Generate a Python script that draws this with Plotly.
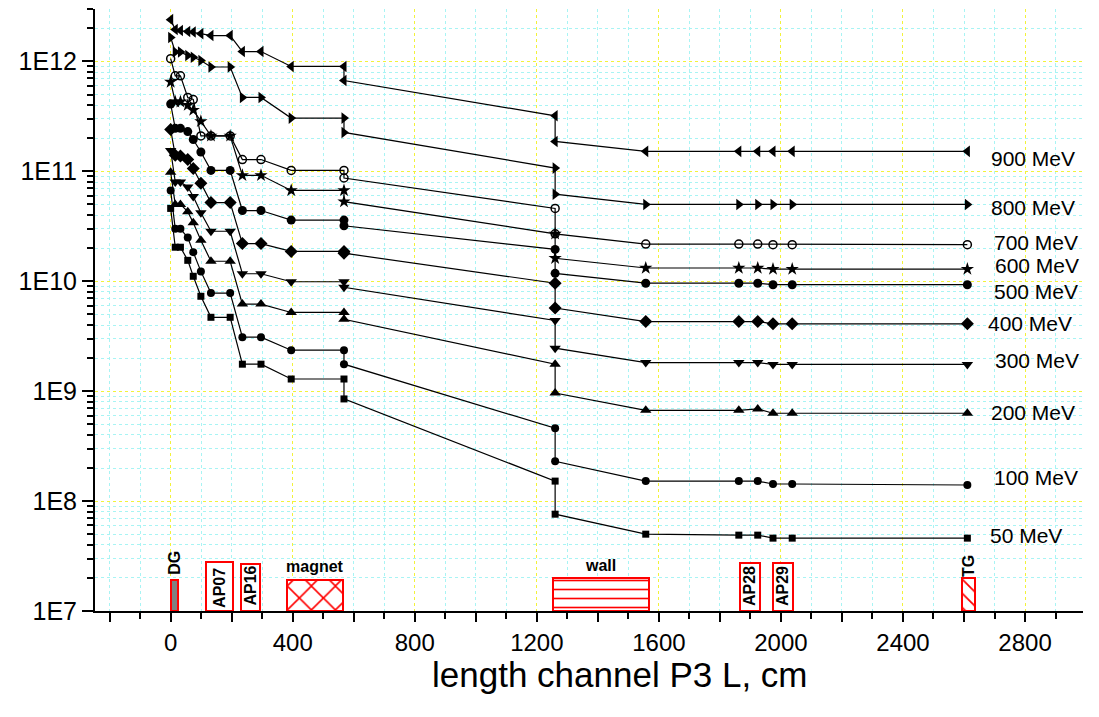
import math
import plotly.graph_objects as go

# ---------------- data ----------------
positions_cm = [0, 15, 32, 56, 74, 99, 132, 195, 235, 296, 395, 568, 568,
                1260, 1260, 1557, 1862, 1924, 1974, 2037, 2611]

energies = ["900 MeV", "800 MeV", "700 MeV", "600 MeV", "500 MeV",
            "400 MeV", "300 MeV", "200 MeV", "100 MeV", "50 MeV"]

v900 = [2.4e12, 1.95e12, 1.91e12, 1.87e12, 1.85e12, 1.79e12, 1.72e12, 1.72e12,
        1.23e12, 1.23e12, 9.0e11, 9.0e11, 6.7e11, 3.2e11, 1.87e11,
        1.52e11, 1.52e11, 1.52e11, 1.52e11, 1.52e11, 1.52e11]
v800 = [1.65e12, 1.22e12, 1.22e12, 1.13e12, 1.09e12, 1.02e12, 8.9e11, 8.9e11,
        4.7e11, 4.7e11, 3.05e11, 3.05e11, 2.26e11, 1.07e11, 6.2e10,
        5.0e10, 5.0e10, 5.0e10, 5.0e10, 5.0e10, 5.0e10]
v700 = [1.06e12, 7.4e11, 7.4e11, 4.7e11, 4.5e11, 2.1e11, 2.1e11, 2.1e11,
        1.28e11, 1.28e11, 1.02e11, 1.02e11, 8.7e10, 4.6e10, 2.7e10,
        2.18e10, 2.18e10, 2.18e10, 2.15e10, 2.15e10, 2.15e10]
v600 = [6.5e11, 4.3e11, 4.3e11, 4.0e11, 3.6e11, 2.85e11, 2.1e11, 2.1e11,
        9.2e10, 9.2e10, 6.7e10, 6.7e10, 5.3e10, 2.7e10, 1.62e10,
        1.32e10, 1.32e10, 1.32e10, 1.29e10, 1.29e10, 1.29e10]
v500 = [4.1e11, 2.46e11, 2.46e11, 2.3e11, 1.95e11, 1.5e11, 1.02e11, 1.02e11,
        4.4e10, 4.4e10, 3.6e10, 3.6e10, 3.2e10, 1.95e10, 1.18e10,
        9.6e9, 9.6e9, 9.6e9, 9.3e9, 9.3e9, 9.3e9]
v400 = [2.4e11, 1.4e11, 1.38e11, 1.28e11, 1.06e11, 7.8e10, 5.2e10, 5.2e10,
        2.2e10, 2.2e10, 1.87e10, 1.87e10, 1.8e10, 9.6e9, 5.7e9,
        4.3e9, 4.3e9, 4.3e9, 4.1e9, 4.1e9, 4.1e9]
v300 = [1.55e11, 8.0e10, 8.0e10, 7.2e10, 5.9e10, 4.2e10, 2.85e10, 2.85e10,
        1.17e10, 1.17e10, 9.9e9, 9.9e9, 8.8e9, 4.4e9, 2.46e9,
        1.82e9, 1.82e9, 1.82e9, 1.75e9, 1.75e9, 1.75e9]
v200 = [9.8e10, 5.0e10, 5.0e10, 4.3e10, 3.4e10, 2.36e10, 1.52e10, 1.52e10,
        6.2e9, 6.2e9, 5.2e9, 5.2e9, 4.5e9, 1.76e9, 9.6e8,
        6.7e8, 6.7e8, 6.9e8, 6.3e8, 6.3e8, 6.3e8]
v100 = [6.7e10, 3.0e10, 3.0e10, 2.5e10, 1.84e10, 1.23e10, 7.8e9, 7.8e9,
        3.1e9, 3.1e9, 2.36e9, 2.36e9, 1.76e9, 4.6e8, 2.3e8,
        1.52e8, 1.52e8, 1.52e8, 1.43e8, 1.43e8, 1.4e8]
v50 = [4.6e10, 2.04e10, 2.04e10, 1.55e10, 1.11e10, 7.3e9, 4.7e9, 4.7e9,
       1.76e9, 1.76e9, 1.29e9, 1.29e9, 8.5e8, 1.52e8, 7.6e7,
       5.0e7, 4.9e7, 4.9e7, 4.6e7, 4.6e7, 4.6e7]

series_values = [v900, v800, v700, v600, v500, v400, v300, v200, v100, v50]

# beam-line elements drawn along the bottom
elem_names = ["DG", "AP07", "AP16", "magnet", "wall", "AP28", "AP29", "TG"]
elem_start = [0, 116, 231, 380, 1252, 1866, 1973, 2594]
elem_end = [25, 204, 293, 566, 1566, 1932, 2041, 2637]
elem_top = [1.9e7, 2.77e7, 2.67e7, 1.91e7, 2.01e7, 2.75e7, 2.71e7, 2.0e7]

x_tick_labels = ["0", "400", "800", "1200", "1600", "2000", "2400", "2800"]
y_tick_labels = ["1E7", "1E8", "1E9", "1E10", "1E11", "1E12"]

# ---------------- styles ----------------
FONT = "Arial, Liberation Sans, sans-serif"
symbols = ["triangle-left", "triangle-right", "circle-open", "star", "circle",
           "diamond", "triangle-down", "triangle-up", "circle", "square"]
sizes = [10, 10, 8, 10, 9, 10, 10, 10, 8, 7]
label_xshift = [22, 22, 25, 26, 25, 19, 26, 22, 25, 21]
label_yshift = [-7, -3, 2, 4, -7, 0, 4, 1, 8, 3]

elem_fill = ["#808080", "white", "white", "white", "white", "white", "white", "white"]
elem_pattern = ["", "", "", "x", "-", "", "", "\\"]
elem_pattern_size = [10, 10, 10, 17, 9, 10, 10, 10]
elem_label_y = [2.78e7, 1.64e7, 1.69e7, 2.53e7, 2.62e7, 1.69e7, 1.69e7, 2.55e7]
elem_label_angle = [-90, -90, -90, 0, 0, -90, -90, -90]

fig = go.Figure()

# element boxes as bars from the axis floor (one trace each)
base_val = 1e7
for name, a, b, top, fill, pat, psz in zip(elem_names, elem_start, elem_end, elem_top,
                                          elem_fill, elem_pattern, elem_pattern_size):
    marker = dict(color=fill, line=dict(color="red", width=2))
    if pat:
        marker["pattern"] = dict(shape=pat, fgcolor="red", fgopacity=1, size=psz,
                                 solidity=0.18, fillmode="overlay")
    fig.add_trace(go.Bar(
        x=[(a + b) / 2], width=[b - a], base=[base_val], y=[top - base_val],
        marker=marker, name=name, showlegend=False, hoverinfo="skip",
    ))

for name, vals, sym, sz in zip(energies, series_values, symbols, sizes):
    fig.add_trace(go.Scatter(
        x=positions_cm, y=vals, mode="lines+markers", name=name,
        line=dict(color="black", width=1.2),
        marker=dict(symbol=sym, size=sz, color="black",
                    line=dict(color="black", width=1.5 if "open" in sym else 0)),
        showlegend=False,
    ))

annotations = []
for name, vals, xs, ys in zip(energies, series_values, label_xshift, label_yshift):
    annotations.append(dict(
        x=positions_cm[-1], y=math.log10(vals[-1]), xref="x", yref="y",
        text=name, showarrow=False, xanchor="left", yanchor="middle",
        xshift=xs, yshift=ys, font=dict(family=FONT, size=21, color="black")))

for name, a, b, ly, ang in zip(elem_names, elem_start, elem_end, elem_label_y, elem_label_angle):
    annotations.append(dict(
        x=(a + b) / 2, y=math.log10(ly), xref="x", yref="y",
        text="<b>%s</b>" % name, showarrow=False, textangle=ang,
        xanchor="center", yanchor="middle",
        font=dict(family=FONT, size=16, color="black")))

annotations.append(dict(
    x=0.531, y=-0.106, xref="paper", yref="paper", showarrow=False,
    text="length channel P3 L, cm", xanchor="center", yanchor="middle",
    font=dict(family=FONT, size=35, color="black")))

x_tick_vals = [int(t) for t in x_tick_labels]
xt_vals = list(range(-200, 3000, 200))
xt_text = [str(v) if v in x_tick_vals else "" for v in xt_vals]

fig.update_layout(
    width=1099, height=717,
    margin=dict(l=95, r=16, t=9, b=106),
    paper_bgcolor="white", plot_bgcolor="white",
    barmode="overlay", bargap=0,
    annotations=annotations,
    font=dict(family=FONT, color="black"),
    xaxis=dict(
        range=[-248, 2990], tickmode="array", tickvals=xt_vals, ticktext=xt_text,
        ticks="outside", ticklen=9, tickwidth=2, tickcolor="black",
        showline=True, linewidth=2, linecolor="black", zeroline=False,
        showgrid=False,
        tickfont=dict(family=FONT, size=24, color="black"),
        minor=dict(tickmode="linear", tick0=0, dtick=100, ticks="outside",
                   ticklen=6, tickwidth=2, tickcolor="black",
                   showgrid=True, gridcolor="#a8f4f4", griddash="dot", gridwidth=1),
    ),
    yaxis=dict(
        type="log", range=[7, 12.477],
        tickmode="array", tickvals=[10 ** k for k in range(7, 13)], ticktext=y_tick_labels,
        ticks="outside", ticklen=11, tickwidth=2, tickcolor="black",
        showline=True, linewidth=2, linecolor="black", zeroline=False,
        showgrid=True, gridcolor="#f2f23a", griddash="dot", gridwidth=1,
        tickfont=dict(family=FONT, size=25, color="black"),
        minor=dict(dtick="D1", ticks="outside", ticklen=6, tickwidth=2, tickcolor="black",
                   showgrid=True, gridcolor="#a8f4f4", griddash="dot", gridwidth=1),
    ),
)

# yellow major vertical grid every 400 cm via an overlaying axis
fig.update_layout(xaxis2=dict(
    overlaying="x", anchor="y", side="bottom", range=[-248, 2990],
    tickmode="array", tickvals=x_tick_vals, showticklabels=False, ticks="",
    showgrid=True, gridcolor="#f2f23a", griddash="dot", gridwidth=1,
    showline=False, zeroline=False, layer="below traces"))
fig.add_trace(go.Scatter(x=[None], y=[None], xaxis="x2", showlegend=False, hoverinfo="skip"))

fig.write_html("out.html")
